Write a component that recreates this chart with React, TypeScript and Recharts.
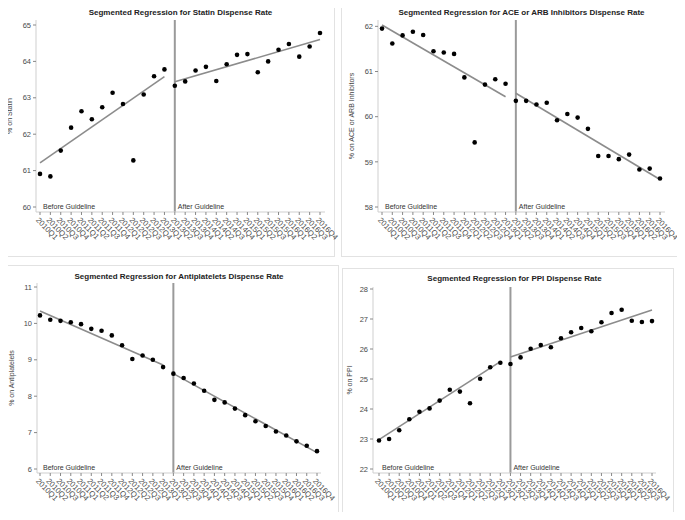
import React from 'react';
import { ComposedChart, Line, XAxis, YAxis, ReferenceLine } from 'recharts';

// quarters shown on every x axis
const quarters = [
  '2010Q1', '2010Q2', '2010Q3', '2010Q4', '2011Q1', '2011Q2', '2011Q3', '2011Q4',
  '2012Q1', '2012Q2', '2012Q3', '2012Q4', '2013Q1', '2013Q2', '2013Q3', '2013Q4',
  '2014Q1', '2014Q2', '2014Q3', '2014Q4', '2015Q1', '2015Q2', '2015Q3', '2015Q4',
  '2016Q1', '2016Q2', '2016Q3', '2016Q4',
];
const guidelineQuarter = '2013Q2';

// observed dispense rates (%)
const statin = [
  60.91, 60.84, 61.55, 62.18, 62.63, 62.41, 62.74, 63.14, 62.83, 61.28, 63.09, 63.59, 63.78,
  63.33, 63.45, 63.75, 63.85, 63.46, 63.92, 64.18, 64.2, 63.7, 64.0, 64.32, 64.48, 64.13, 64.41, 64.78,
];
const ace = [
  61.95, 61.62, 61.8, 61.88, 61.81, 61.45, 61.42, 61.39, 60.87, 59.43, 60.71, 60.83, 60.73,
  60.35, 60.35, 60.27, 60.31, 59.92, 60.06, 59.98, 59.73, 59.13, 59.13, 59.06, 59.16, 58.83, 58.85, 58.63,
];
const antiplatelets = [
  10.22, 10.1, 10.07, 10.03, 9.98, 9.85, 9.8, 9.67, 9.4, 9.02, 9.12, 9.0, 8.8,
  8.62, 8.5, 8.35, 8.15, 7.9, 7.83, 7.66, 7.48, 7.31, 7.18, 7.03, 6.92, 6.76, 6.64, 6.49,
];
const ppi = [
  22.95, 23.0, 23.29, 23.66, 23.91, 24.02, 24.28, 24.64, 24.58, 24.19, 25.01, 25.39, 25.54,
  25.5, 25.72, 26.01, 26.13, 26.06, 26.36, 26.56, 26.7, 26.59, 26.89, 27.2, 27.31, 26.94, 26.9, 26.93,
];

// fitted segment end values [first quarter, last quarter] before / after the guideline
const statinFitBefore = [61.21, 63.58];
const statinFitAfter = [63.44, 64.6];
const aceFitBefore = [62.03, 60.44];
const aceFitAfter = [60.52, 58.61];
const antiFitBefore = [10.34, 8.86];
const antiFitAfter = [8.62, 6.45];
const ppiFitBefore = [22.98, 25.58];
const ppiFitAfter = [25.73, 27.3];

const statinTicks = [60, 61, 62, 63, 64, 65];
const aceTicks = [58, 59, 60, 61, 62];
const antiTicks = [6, 7, 8, 9, 10, 11];
const ppiTicks = [22, 23, 24, 25, 26, 27, 28];

const FONT = '"Liberation Sans", Arial, sans-serif';
const FRAME = '#cfcfcf';
const EXTRA = 16; // room on the right for the last slanted tick label

function buildRows(values: number[], before: number[], after: number[]) {
  const cut = quarters.indexOf(guidelineQuarter);
  const last = quarters.length - 1;
  return quarters.map((q, i) => ({
    q,
    v: values[i],
    fb: i === 0 ? before[0] : i === cut - 1 ? before[1] : null,
    fa: i === cut ? after[0] : i === last ? after[1] : null,
  }));
}

const QuarterTick = (props: any) => {
  const { x, y, payload } = props;
  return (
    <g transform={`translate(${x - 3},${y + 2})`}>
      <text transform="rotate(46)" x={0} y={0} dy={2} textAnchor="start" fontSize={7.8} fill="#4a4a4a" fontFamily={FONT}>
        {payload.value}
      </text>
    </g>
  );
};

const YTitle = (props: any) => {
  const { viewBox, text, tx } = props;
  const cy = viewBox.y + viewBox.height / 2;
  return (
    <text x={tx} y={cy} transform={`rotate(-90, ${tx}, ${cy})`} textAnchor="middle" dominantBaseline="central"
      fontSize={7} fill="#444" fontFamily={FONT}>
      {text}
    </text>
  );
};

type PanelProps = {
  title: string;
  yLabel: string;
  values: number[];
  fitBefore: number[];
  fitAfter: number[];
  ticks: number[];
  left: number;
  top: number;
  width: number;
  height: number;
  margin: { top: number; right: number; left: number; bottom: number };
  yWidth: number;
  xHeight: number;
  padX: { left: number; right: number };
  padY: { top: number; bottom: number };
  titleY: number;
  yTitleX: number;
  box: { left: number; top: number; width: number; height: number };
};

function Panel(p: PanelProps) {
  const rows = buildRows(p.values, p.fitBefore, p.fitAfter);
  const domain = [p.ticks[0], p.ticks[p.ticks.length - 1]];
  const plotLeft = p.margin.left + p.yWidth;
  const plotRight = p.width - p.margin.right;
  const margin = { ...p.margin, right: p.margin.right + EXTRA };
  return (
    <>
      <div
        style={{
          position: 'absolute',
          left: p.box.left,
          top: p.box.top,
          width: p.box.width,
          height: p.box.height,
          border: '1px solid #e2e2e2',
          boxSizing: 'border-box',
        }}
      />
      <div style={{ position: 'absolute', left: p.left, top: p.top }}>
        <ComposedChart width={p.width + EXTRA} height={p.height} data={rows} margin={margin}>
          <text x={(plotLeft + plotRight) / 2} y={p.titleY} textAnchor="middle" dominantBaseline="central"
            fontSize={8} fontWeight="bold" fill="#222" fontFamily={FONT}>
            {p.title}
          </text>
          <XAxis dataKey="q" type="category" interval={0} height={p.xHeight} padding={p.padX}
            tick={<QuarterTick />} tickSize={3} tickLine={{ stroke: '#888' }} axisLine={{ stroke: FRAME }} />
          <XAxis xAxisId="top" dataKey="q" orientation="top" height={0} tick={false} tickLine={false}
            axisLine={{ stroke: FRAME }} />
          <YAxis type="number" domain={domain} ticks={p.ticks} width={p.yWidth} padding={p.padY}
            tickSize={3} tickLine={{ stroke: '#888' }} axisLine={{ stroke: FRAME }}
            tick={{ fontSize: 7.5, fill: '#4a4a4a', fontFamily: FONT }}
            label={<YTitle text={p.yLabel} tx={p.yTitleX} />} />
          <YAxis yAxisId="r" orientation="right" width={0} tick={false} tickLine={false}
            axisLine={{ stroke: FRAME }} />
          <ReferenceLine x={guidelineQuarter} stroke="#9a9a9a" strokeWidth={2}
            label={{ value: 'After Guideline', position: 'insideBottomLeft', offset: 3, fontSize: 7, fill: '#333', fontFamily: FONT }} />
          <ReferenceLine x={quarters[0]} stroke="none"
            label={{ value: 'Before Guideline', position: 'insideBottomLeft', offset: 3, fontSize: 7, fill: '#333', fontFamily: FONT }} />
          <Line dataKey="fb" stroke="#8c8c8c" strokeWidth={1.6} dot={false} connectNulls isAnimationActive={false} />
          <Line dataKey="fa" stroke="#8c8c8c" strokeWidth={1.6} dot={false} connectNulls isAnimationActive={false} />
          <Line dataKey="v" stroke="none" dot={{ r: 2.3, fill: '#000', stroke: '#000', strokeWidth: 0 }}
            activeDot={false} isAnimationActive={false} />
        </ComposedChart>
      </div>
    </>
  );
}

export default function App() {
  return (
    <div style={{ position: 'relative', width: 685, height: 520, margin: -8, background: '#fff', overflow: 'hidden' }}>
      <Panel
        title="Segmented Regression for Statin Dispense Rate"
        yLabel="% on Statin"
        values={statin}
        fitBefore={statinFitBefore}
        fitAfter={statinFitAfter}
        ticks={statinTicks}
        left={0}
        top={0}
        width={335}
        height={252}
        margin={{ top: 20, right: 10, left: 0, bottom: 0 }}
        yWidth={36}
        xHeight={40}
        padX={{ left: 4, right: 5 }}
        padY={{ top: 5, bottom: 5 }}
        titleY={12}
        yTitleX={9}
        box={{ left: 1, top: -1, width: 334, height: 258 }}
      />
      <Panel
        title="Segmented Regression for ACE or ARB Inhibitors Dispense Rate"
        yLabel="% on ACE or ARB Inhibitors"
        values={ace}
        fitBefore={aceFitBefore}
        fitAfter={aceFitAfter}
        ticks={aceTicks}
        left={340}
        top={0}
        width={335}
        height={252}
        margin={{ top: 20, right: 10, left: 0, bottom: 0 }}
        yWidth={38}
        xHeight={40}
        padX={{ left: 4, right: 5 }}
        padY={{ top: 5, bottom: 5 }}
        titleY={12}
        yTitleX={11}
        box={{ left: 341, top: -1, width: 340, height: 258 }}
      />
      <Panel
        title="Segmented Regression for Antiplatelets Dispense Rate"
        yLabel="% on Antiplatelets"
        values={antiplatelets}
        fitBefore={antiFitBefore}
        fitAfter={antiFitAfter}
        ticks={antiTicks}
        left={0}
        top={265}
        width={338}
        height={252}
        margin={{ top: 18, right: 17, left: 0, bottom: 0 }}
        yWidth={37}
        xHeight={44}
        padX={{ left: 3, right: 4 }}
        padY={{ top: 4, bottom: 4 }}
        titleY={11}
        yTitleX={11}
        box={{ left: 3, top: 265, width: 336, height: 252 }}
      />
      <Panel
        title="Segmented Regression for PPI Dispense Rate"
        yLabel="% on PPI"
        values={ppi}
        fitBefore={ppiFitBefore}
        fitAfter={ppiFitAfter}
        ticks={ppiTicks}
        left={340}
        top={265}
        width={335}
        height={252}
        margin={{ top: 22, right: 19, left: 0, bottom: 0 }}
        yWidth={33}
        xHeight={44}
        padX={{ left: 6, right: 4 }}
        padY={{ top: 2, bottom: 4 }}
        titleY={13}
        yTitleX={9}
        box={{ left: 342, top: 268, width: 332, height: 249 }}
      />
    </div>
  );
}
